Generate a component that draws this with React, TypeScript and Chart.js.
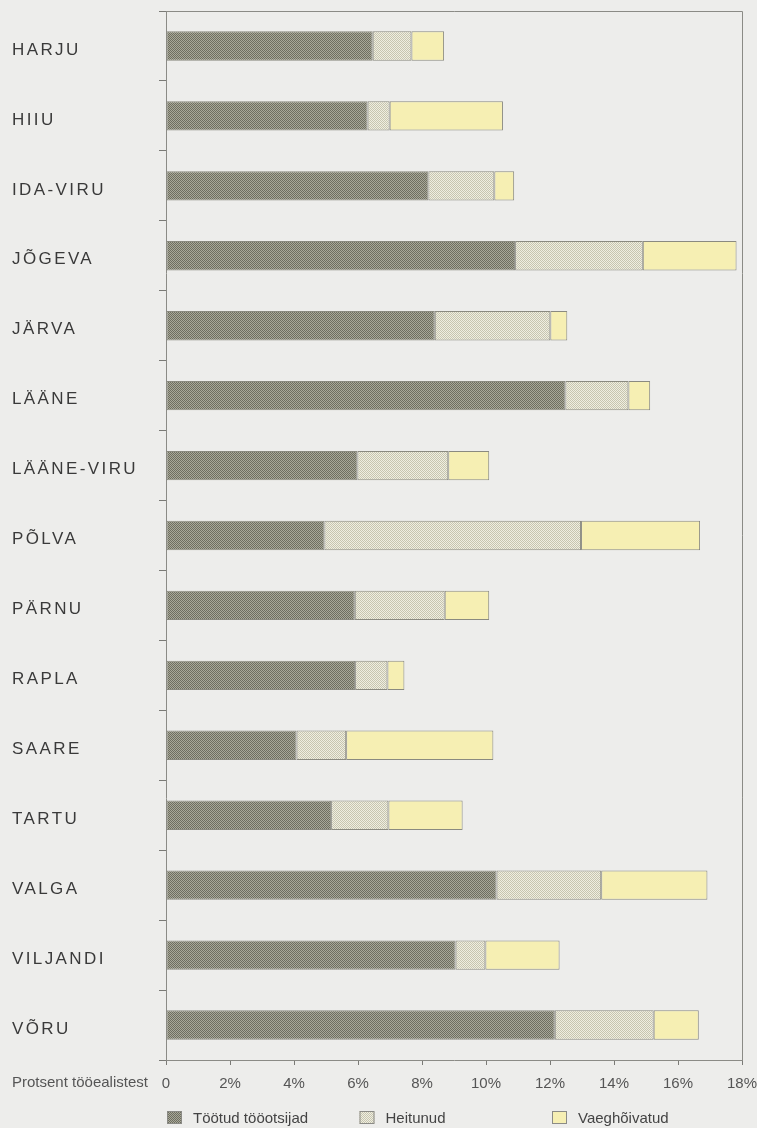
import { useEffect, useRef } from 'react';
import { Chart, registerables } from 'chart.js';

Chart.register(...registerables);

const categories = ['HARJU', 'HIIU', 'IDA-VIRU', 'JÕGEVA', 'JÄRVA', 'LÄÄNE', 'LÄÄNE-VIRU', 'PÕLVA', 'PÄRNU', 'RAPLA', 'SAARE', 'TARTU', 'VALGA', 'VILJANDI', 'VÕRU'];
const seriesNames = ['Töötud tööotsijad', 'Heitunud', 'Vaeghõivatud'];
const unemployed = [6.46, 6.3, 8.2, 10.91, 8.4, 12.48, 5.98, 4.95, 5.9, 5.91, 4.08, 5.16, 10.33, 9.05, 12.15];
const discouraged = [1.21, 0.69, 2.06, 3.99, 3.61, 1.97, 2.84, 8.02, 2.81, 1.01, 1.55, 1.79, 3.27, 0.93, 3.09];
const underemployed = [1.02, 3.54, 0.62, 2.93, 0.53, 0.68, 1.28, 3.72, 1.39, 0.53, 4.6, 2.32, 3.32, 2.32, 1.41];
const xTickLabels = ['0', '2%', '4%', '6%', '8%', '10%', '12%', '14%', '16%', '18%'];
const xAxisCaption = 'Protsent tööealistest';

const FONT = "'Liberation Sans', Arial, Helvetica, sans-serif";
const FRAME = '#8b8b86';
const TICK = '#7a7a76';
const W = 757;
const H = 1128;

export default function App() {
  const ref = useRef<HTMLCanvasElement>(null);

  useEffect(() => {
    document.body.style.background = '#ededeb';
    document.body.style.margin = '0';
    const canvas = ref.current!;
    const ctx = canvas.getContext('2d')!;

    const pattern = (a: string, b: string) => {
      const c = document.createElement('canvas');
      c.width = 2;
      c.height = 2;
      const g = c.getContext('2d')!;
      g.fillStyle = b;
      g.fillRect(0, 0, 2, 2);
      g.fillStyle = a;
      g.fillRect(0, 0, 1, 1);
      g.fillRect(1, 1, 1, 1);
      return ctx.createPattern(c, 'repeat')!;
    };
    const fills: (string | CanvasPattern)[] = [
      pattern('#6e6e60', '#a8a899'),
      pattern('#c7c5af', '#efeee1'),
      '#f6efb3',
    ];
    const legendX = [167, 359.5, 552];

    const decor = {
      id: 'decor',
      beforeDraw(chart: any) {
        chart.ctx.letterSpacing = '2.4px';
      },
      beforeDatasetsDraw(chart: any) {
        const c = chart.ctx;
        c.letterSpacing = '0px';
        const a = chart.chartArea;
        c.save();
        c.strokeStyle = FRAME;
        c.lineWidth = 1;
        c.beginPath();
        c.moveTo(Math.round(a.left), Math.round(a.top) + 0.5);
        c.lineTo(Math.round(a.right) + 0.5, Math.round(a.top) + 0.5);
        c.lineTo(Math.round(a.right) + 0.5, Math.round(a.bottom));
        c.stroke();
        c.restore();
      },
      afterDraw(chart: any) {
        const c = chart.ctx;
        const xs = chart.scales.x;
        c.save();
        c.letterSpacing = '0px';
        c.font = `15px ${FONT}`;
        c.fillStyle = '#555555';
        c.textAlign = 'left';
        c.textBaseline = 'top';
        c.fillText(xAxisCaption, 12, xs.top + 5 + 10);

        const cy = chart.height - 10;
        chart.data.datasets.forEach((ds: any, i: number) => {
          const x = legendX[i];
          c.fillStyle = ds.backgroundColor;
          c.fillRect(x, cy - 7, 15, 13);
          c.strokeStyle = FRAME;
          c.lineWidth = 1;
          c.strokeRect(x + 0.5, cy - 6.5, 14, 12);
          c.fillStyle = '#444444';
          c.textBaseline = 'middle';
          c.fillText(ds.label, x + 26, cy + 1);
        });
        c.restore();
      },
    };

    const values = [unemployed, discouraged, underemployed];
    const chart = new Chart(canvas, {
      type: 'bar',
      data: {
        labels: categories,
        datasets: seriesNames.map((name, i) => ({
          label: name,
          data: values[i],
          backgroundColor: fills[i] as any,
          borderColor: '#8a8a80',
          borderWidth: 1,
          borderSkipped: false,
          barPercentage: 0.42,
          categoryPercentage: 1,
        })),
      },
      options: {
        indexAxis: 'y',
        responsive: false,
        animation: false,
        layout: { padding: { left: 12, top: 11, right: 15, bottom: 0 } },
        plugins: { legend: { display: false }, tooltip: { enabled: false } },
        scales: {
          x: {
            stacked: true,
            min: 0,
            max: 18,
            afterFit: (axis: any) => {
              axis.height = 68;
              axis.paddingLeft = 0;
              axis.paddingRight = 0;
            },
            afterBuildTicks: (axis: any) => {
              axis.ticks = xTickLabels.map((_, i) => ({ value: i * 2 }));
            },
            ticks: {
              z: 1,
              padding: 10,
              color: '#555555',
              font: { family: FONT, size: 15 },
              callback: (_v: any, i: number) => xTickLabels[i],
            },
            grid: { drawOnChartArea: false, drawTicks: true, tickLength: 5, color: TICK },
            border: { color: FRAME, width: 1 },
          },
          y: {
            stacked: true,
            afterFit: (axis: any) => {
              axis.width = 154;
              axis.paddingTop = 0;
              axis.paddingBottom = 0;
            },
            ticks: {
              crossAlign: 'far',
              labelOffset: 4,
              color: '#3a3a3a',
              font: { family: FONT, size: 17 },
            },
            grid: { offset: true, drawOnChartArea: false, drawTicks: true, tickLength: 7, color: TICK },
            border: { color: FRAME, width: 1 },
          },
        },
      },
      plugins: [decor],
    });
    return () => chart.destroy();
  }, []);

  return (
    <canvas
      ref={ref}
      width={W}
      height={H}
      style={{ display: 'block', width: W, height: H }}
    />
  );
}
